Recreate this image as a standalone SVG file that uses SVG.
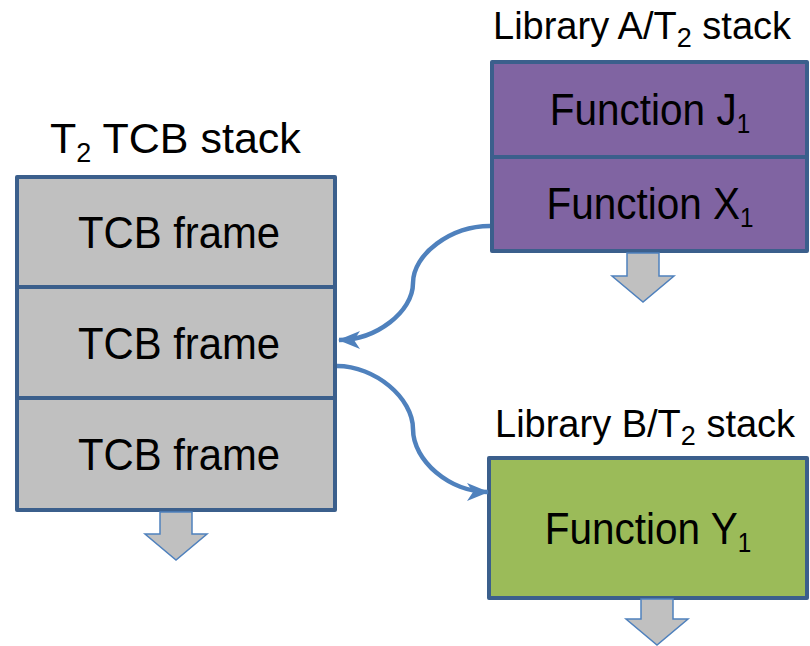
<svg xmlns="http://www.w3.org/2000/svg" width="810" height="646" viewBox="0 0 810 646">
<style>
  .box { stroke:#3b5f8c; stroke-width:4; stroke-linejoin:round; }
  .gray { fill:#c0c0c0; }
  .purple { fill:#8064a2; }
  .green { fill:#9bbb59; }
  .lbl { font-family:"Liberation Sans", Arial, sans-serif; font-size:45px; fill:#000; text-anchor:middle; }
  .title { font-family:"Liberation Sans", Arial, sans-serif; fill:#000; }
  .sub { font-size:27px; }
  .down { fill:#c0c0c0; stroke:#4f81bd; stroke-width:1.5; stroke-linejoin:miter; }
  .conn { fill:none; stroke:#4f81bd; stroke-width:4.5; }
</style>
<defs>
  <marker id="ah" markerUnits="userSpaceOnUse" markerWidth="24" markerHeight="20" viewBox="0 0 24 20" refX="21" refY="10" orient="auto">
    <path d="M0,1 L22,10 L0,19 L6,10 z" fill="#4f81bd"/>
  </marker>
</defs>

<g id="tcb-stack">
  <text class="title" x="50" y="153" font-size="43">T<tspan class="sub" dy="9">2</tspan><tspan dy="-9"> TCB stack</tspan></text>
  <g id="tcb-frame-1">
    <rect class="box gray" x="17" y="177" width="318" height="110"/>
    <text class="lbl" transform="translate(179,248) scale(0.93,1)">TCB frame</text>
  </g>
  <g id="tcb-frame-2">
    <rect class="box gray" x="17" y="287" width="318" height="111"/>
    <text class="lbl" transform="translate(179,359) scale(0.93,1)">TCB frame</text>
  </g>
  <g id="tcb-frame-3">
    <rect class="box gray" x="17" y="398" width="318" height="112"/>
    <text class="lbl" transform="translate(179,470) scale(0.93,1)">TCB frame</text>
  </g>
  <polygon id="tcb-down" class="down" points="160,512 192,512 192,534 207,534 176,560 145,534 160,534"/>
</g>

<g id="libA-stack">
  <text class="title" x="493" y="39" font-size="38">Library A/T<tspan class="sub" font-size="25" dy="8">2</tspan><tspan dy="-8"> stack</tspan></text>
  <g id="function-j1">
    <rect class="box purple" x="492" y="62" width="315" height="95"/>
    <text class="lbl" transform="translate(650,125) scale(0.9,1)">Function J<tspan class="sub" dy="8">1</tspan></text>
  </g>
  <g id="function-x1">
    <rect class="box purple" x="492" y="157" width="315" height="94"/>
    <text class="lbl" transform="translate(650,219) scale(0.9,1)">Function X<tspan class="sub" dy="8">1</tspan></text>
  </g>
  <polygon id="libA-down" class="down" points="627,253 659,253 659,276 674,276 643,302 612,276 627,276"/>
</g>

<g id="libB-stack">
  <text class="title" x="495" y="437" font-size="38">Library B/T<tspan class="sub" font-size="25" dy="8">2</tspan><tspan dy="-8"> stack</tspan></text>
  <g id="function-y1">
    <rect class="box green" x="489" y="458" width="318" height="140"/>
    <text class="lbl" transform="translate(648,544) scale(0.9,1)">Function Y<tspan class="sub" dy="8">1</tspan></text>
  </g>
  <polygon id="libB-down" class="down" points="641,599 673,599 673,619 688,619 657,645 626,619 641,619"/>
</g>

<g id="connectors">
  <path class="conn" d="M490,226 C451,226 413,254 413,283 C413,312 376,340 339,340" marker-end="url(#ah)"/>
  <path class="conn" d="M337,366 C375,366 413,398 413,429 C413,461 450,492 488,492" marker-end="url(#ah)"/>
</g>
</svg>
